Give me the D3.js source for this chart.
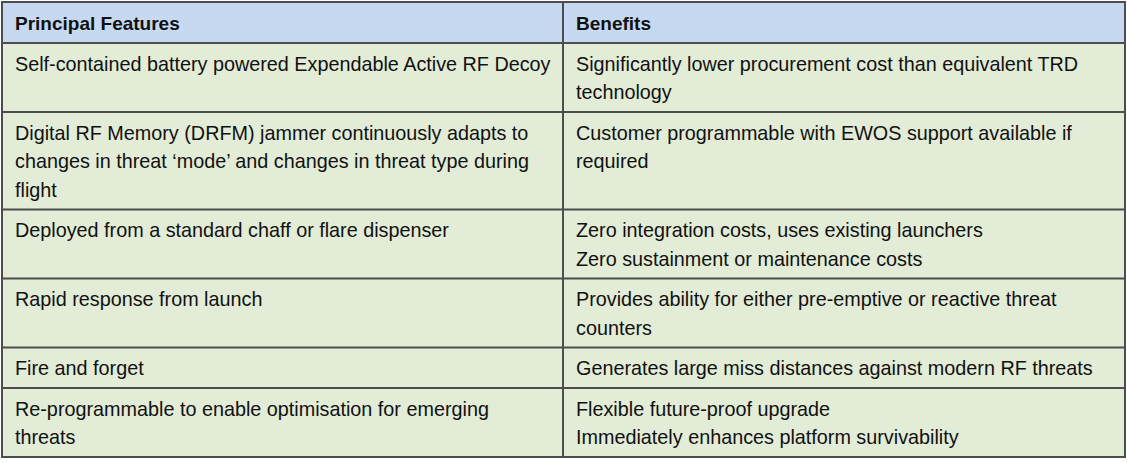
<!DOCTYPE html>
<html>
<head>
<meta charset="utf-8">
<script src="https://cdn.jsdelivr.net/npm/d3@7"></script>
<style>
  body { margin: 0; background: #ffffff; }
  svg text { font-family: "Liberation Sans", Arial, sans-serif; fill: #111; }
</style>
</head>
<body>
<svg id="table"></svg>
<script>
// table content, lines wrapped as in the reference
var headers = ["Principal Features", "Benefits"];

var features = [
    ["Self-contained battery powered Expendable Active RF Decoy"],
    ["Digital RF Memory (DRFM) jammer continuously adapts to",
     "changes in threat \u2018mode\u2019 and changes in threat type during",
     "flight"],
    ["Deployed from a standard chaff or flare dispenser"],
    ["Rapid response from launch"],
    ["Fire and forget"],
    ["Re-programmable to enable optimisation for emerging",
     "threats"]
];

var benefits = [
    ["Significantly lower procurement cost than equivalent TRD",
     "technology"],
    ["Customer programmable with EWOS support available if",
     "required"],
    ["Zero integration costs, uses existing launchers",
     "Zero sustainment or maintenance costs"],
    ["Provides ability for either pre-emptive or reactive threat",
     "counters"],
    ["Generates large miss distances against modern RF threats"],
    ["Flexible future-proof upgrade",
     "Immediately enhances platform survivability"]
];

var W = 1127, H = 463;
var tLeft = 2, tRight = 1125, tSplit = 563, tTop = 2;
var headerH = 41, lineH = 28.5, padY = 12, padX = 13;
var fontSize = 19.8, headSize = 19;

var svg = d3.select("#table").attr("width", W).attr("height", H);

// row heights from the number of lines in each row
var rows = features.map(function(f, i) {
    var n = Math.max(f.length, benefits[i].length);
    return {feature: f, benefit: benefits[i], h: padY + lineH * n};
});
var y0 = tTop + headerH;
rows.forEach(function(r) { r.y = y0; y0 += r.h; });
var tBottom = y0;

var x = d3.scaleOrdinal().domain([0, 1]).range([tLeft, tSplit]);

// header
svg.append("rect")
    .attr("x", tLeft).attr("y", tTop)
    .attr("width", tRight - tLeft).attr("height", headerH)
    .attr("fill", "#c6d9f1");

svg.selectAll("text.head")
    .data(headers)
    .enter()
    .append("text")
    .attr("class", "head")
    .attr("x", function(d, i) { return x(i) + padX; })
    .attr("y", tTop + 21)
    .attr("dy", "0.35em")
    .style("font-size", headSize + "px")
    .style("font-weight", "bold")
    .text(function(d) { return d; });

// body rows
var g = svg.selectAll("g.row")
    .data(rows)
    .enter()
    .append("g")
    .attr("class", "row")
    .attr("transform", function(d) { return "translate(0," + d.y + ")"; });

g.append("rect")
    .attr("x", tLeft).attr("width", tRight - tLeft)
    .attr("height", function(d) { return d.h; })
    .attr("fill", "#e2ecd6");

[0, 1].forEach(function(col) {
    g.append("text")
        .style("font-size", fontSize + "px")
        .selectAll("tspan")
        .data(function(d) { return col === 0 ? d.feature : d.benefit; })
        .enter()
        .append("tspan")
        .attr("x", x(col) + padX)
        .attr("y", function(d, i) { return 21 + i * lineH; })
        .attr("dy", "0.35em")
        .text(function(d) { return d; });
});

// grid lines
var hLines = [tTop, tTop + headerH].concat(rows.map(function(r) { return r.y + r.h; }));
svg.selectAll("line.h")
    .data(hLines)
    .enter()
    .append("line")
    .attr("class", "h")
    .attr("x1", tLeft).attr("x2", tRight)
    .attr("y1", function(d) { return d; })
    .attr("y2", function(d) { return d; })
    .attr("stroke", "#4d4d4d")
    .attr("stroke-width", 2);

svg.selectAll("line.v")
    .data([tLeft, tSplit, tRight])
    .enter()
    .append("line")
    .attr("class", "v")
    .attr("x1", function(d) { return d; })
    .attr("x2", function(d) { return d; })
    .attr("y1", tTop - 1).attr("y2", tBottom + 1)
    .attr("stroke", "#4d4d4d")
    .attr("stroke-width", 2);
</script>
</body>
</html>
